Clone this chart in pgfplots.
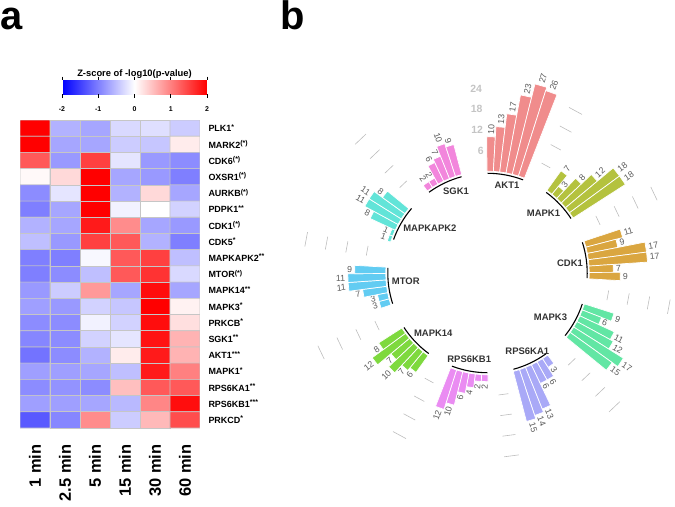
\documentclass[border=0pt]{standalone}
\usepackage{pgfplots}
\pgfplotsset{compat=1.18}
\usepgfplotslibrary{polar}
\usetikzlibrary{calc}
\usepackage{fontspec}
\setmainfont{Liberation Sans}

\definecolor{cAKT}{HTML}{F08C8C}
\definecolor{cMAPKa}{HTML}{B4C23E}
\definecolor{cCDK}{HTML}{DAA640}
\definecolor{cMAPKc}{HTML}{62E6A4}
\definecolor{cRSKA}{HTML}{A9A9F7}
\definecolor{cRSKB}{HTML}{EA8CF2}
\definecolor{cMAPKn}{HTML}{7ED93E}
\definecolor{cMTOR}{HTML}{62CCF2}
\definecolor{cMKtwo}{HTML}{62E4D8}
\definecolor{cSGK}{HTML}{F286DC}
\definecolor{valgray}{HTML}{5A5A5A}
\definecolor{labgray}{HTML}{333333}
\definecolor{gridgray}{HTML}{BDBDBD}
\definecolor{scalegray}{HTML}{C4C4C4}

\newcommand\valfont{\fontsize{8.8}{10}\selectfont}
\newcommand\gfont{\bfseries\fontsize{9.5}{11}\selectfont}
\newcommand\rowfont{\bfseries\fontsize{9}{10}\selectfont}
\newcommand\colfont{\bfseries\fontsize{16.5}{18}\selectfont}
\newcommand\st[1]{\raisebox{0.55ex}{\fontsize{7}{7}\selectfont #1}}

% heatmap: z-score of -log10(p) per kinase (rows) and time point (columns)
\pgfplotstableread{
x y z
0 0 2.0
1 0 -0.6
2 0 -0.7
3 0 -0.3
4 0 -0.25
5 0 -0.4
0 1 2.0
1 1 -0.7
2 1 -0.7
3 1 -0.4
4 1 -0.45
5 1 0.15
0 2 1.3
1 2 -0.8
2 2 1.5
3 2 -0.2
4 2 -0.8
5 2 -0.9
0 3 0.05
1 3 0.3
2 3 2.0
3 3 -0.7
4 3 -0.8
5 3 -1.0
0 4 -0.9
1 4 -0.2
2 4 2.0
3 4 -0.6
4 4 0.3
5 4 -0.7
0 5 -1.0
1 5 -0.7
2 5 2.0
3 5 -0.1
4 5 0.0
5 5 -0.35
0 6 -0.6
1 6 -0.7
2 6 1.8
3 6 0.9
4 6 -0.7
5 6 -0.8
0 7 -0.5
1 7 -0.8
2 7 1.5
3 7 1.3
4 7 -0.6
5 7 -1.0
0 8 -1.0
1 8 -1.0
2 8 -0.05
3 8 1.3
4 8 1.5
5 8 -0.5
0 9 -1.0
1 9 -0.9
2 9 -0.5
3 9 1.3
4 9 1.6
5 9 -0.3
0 10 -0.8
1 10 -0.4
2 10 0.8
3 10 -0.7
4 10 1.9
5 10 -0.7
0 11 -0.75
1 11 -0.8
2 11 -0.35
3 11 -0.45
4 11 2.0
5 11 0.1
0 12 -0.9
1 12 -0.9
2 12 -0.1
3 12 -0.35
4 12 1.9
5 12 0.25
0 13 -0.95
1 13 -0.9
2 13 -0.35
3 13 -0.2
4 13 1.85
5 13 0.6
0 14 -1.1
1 14 -0.9
2 14 -0.6
3 14 0.15
4 14 1.8
5 14 0.6
0 15 -0.75
1 15 -0.75
2 15 -0.7
3 15 -0.5
4 15 1.8
5 15 1.0
0 16 -0.9
1 16 -0.85
2 16 -0.9
3 16 0.5
4 16 1.3
5 16 1.3
0 17 -0.75
1 17 -0.75
2 17 -0.7
3 17 -0.55
4 17 0.95
5 17 1.9
0 18 -1.3
1 18 -0.95
2 18 0.9
3 18 -0.4
4 18 0.55
5 18 1.4
}\heatdata

\newcommand\rzero{29.5}
% one bar of the circular chart: colour, group centre angle, index, value
\newcommand\kbar[4]{%
  \pgfmathsetmacro\aA{mod(#2+10.8-#3*3.6+360,360)}%
  \pgfmathsetmacro\aB{mod(\aA-3.6+360,360)}%
  \pgfmathsetmacro\aM{mod(\aA-1.8+360,360)}%
  \pgfmathsetmacro\rT{\rzero+#4}%
  \pgfmathsetmacro\rL{\rT+0.5}%
  \def\anc{west}\let\vrot\aM
  \ifdim\aM pt>90pt\ifdim\aM pt<270pt\def\anc{east}\pgfmathsetmacro\vrot{\aM-180}\fi\fi
  \edef\doit{\noexpand\addplot[fill=#1,draw=white,line width=0.7bp] coordinates {(\aA,\rzero) (\aA,\rT) (\aB,\rT) (\aB,\rzero)} -- cycle;
    \noexpand\node[rotate=\vrot,anchor=\anc,font=\noexpand\valfont,text=valgray,inner sep=0.8bp] at (axis cs:\aM,\rL) {#4};}%
  \doit}
% group name (name, arc centre angle, label angle, label radius) with its black arc
\newcommand\glabel[4]{%
  \pgfmathsetmacro\gs{#2+10.4}\pgfmathsetmacro\ge{#2-10.4}%
  \edef\doit{\noexpand\draw[line width=1.1bp] let \noexpand\p1=(axis cs:0,0), \noexpand\p2=(axis cs:0,28.9), \noexpand\n1={veclen(\noexpand\x2-\noexpand\x1,\noexpand\y2-\noexpand\y1)} in (axis cs:\gs,28.9) arc[start angle=\gs, end angle=\ge, radius=\noexpand\n1];
    \noexpand\node[anchor=center,font=\noexpand\gfont,text=labgray,inner sep=0.5bp] at (axis cs:#3,#4) {#1};}%
  \doit}
% short grey scale lines in a gap
\newcommand\gapgrid[1]{%
  \pgfmathsetmacro\gs{#1+2.3}\pgfmathsetmacro\ge{#1-2.3}%
  \edef\doit{%
    \noexpand\draw[gridgray,line width=0.6bp] (axis cs:\gs,35.5) -- (axis cs:\ge,35.5);
    \noexpand\draw[gridgray,line width=0.6bp] (axis cs:\gs,41.5) -- (axis cs:\ge,41.5);
    \noexpand\draw[gridgray,line width=0.6bp] (axis cs:\gs,47.5) -- (axis cs:\ge,47.5);
    \noexpand\draw[gridgray,line width=0.6bp] (axis cs:\gs,53.5) -- (axis cs:\ge,53.5);}%
  \doit}

\begin{document}
\begin{tikzpicture}[x=1bp,y=1bp]
\useasboundingbox (0,0) rectangle (675bp,507bp);
\node[anchor=base west,inner sep=0,font=\bfseries\fontsize{40}{40}\selectfont] at (0bp,477bp) {a};
\node[anchor=base west,inner sep=0,font=\bfseries\fontsize{40}{40}\selectfont] at (280bp,477bp) {b};

\begin{axis}[at={(20bp,79bp)}, anchor=south west, scale only axis,
  width=180bp, height=308bp,
  xmin=-0.5, xmax=5.5, ymin=-0.5, ymax=18.5, y dir=reverse,
  axis line style={draw=none}, major tick length=0pt,
  xtick={0,...,5}, xticklabels={1 min,2.5 min,5 min,15 min,30 min,60 min},
  xticklabel style={rotate=90, anchor=east, font=\colfont},
  xticklabel shift=13bp,
  ytick={0,...,18}, yticklabel pos=right,
  yticklabels={PLK1\st{*}, MARK2\st{(*)}, CDK6\st{(*)}, OXSR1\st{(*)}, AURKB\st{(*)}, PDPK1\st{**}, CDK1\st{(*)}, CDK5\st{*}, MAPKAPK2\st{**}, MTOR\st{(*)}, MAPK14\st{**}, MAPK3\st{*}, PRKCB\st{*}, SGK1\st{**}, AKT1\st{***}, MAPK1\st{*}, RPS6KA1\st{**}, RPS6KB1\st{***}, PRKCD\st{*}},
  yticklabel style={anchor=west, font=\rowfont, xshift=5bp},
  colormap={bwr}{rgb255=(0,0,255) rgb255=(255,255,255) rgb255=(255,0,0)},
  point meta min=-2, point meta max=2,
  colorbar horizontal,
  colorbar style={at={(parent axis.north west)}, anchor=south west,
    xshift=42bp, yshift=34.5bp, scale only axis, width=145bp, height=14bp,
    xtick={-2,-1,0,1,2}, xticklabels={-2,-1,0,1,2}, ytick=\empty,
    xticklabel pos=lower, xticklabel shift=0pt,
    xticklabel style={rotate=0, anchor=north, yshift=-6bp, font=\bfseries\fontsize{7}{8}\selectfont},
    major tick length=3.5bp, tick align=outside,
    xtick style={draw=black, line width=0.5bp},
    axis line style={draw=none},
    title={Z-score of -log10(p-value)},
    title style={font=\bfseries\fontsize{9.4}{11}\selectfont, yshift=-7.5bp}},
  ]
  \addplot[matrix plot*, mesh/cols=6, point meta=explicit, draw=gray!45, line width=0.6bp]
    table[x=x, y=y, meta=z] {\heatdata};
\end{axis}

\begin{polaraxis}[at={(487.5bp,234bp)}, anchor=center, scale only axis,
  width=414bp, height=414bp, xmin=0, xmax=360, ymin=0, ymax=60,
  hide axis, clip=false]
  % AKT1
  \kbar{cAKT}{79.5}{0}{10}\kbar{cAKT}{79.5}{1}{13}\kbar{cAKT}{79.5}{2}{17}
  \kbar{cAKT}{79.5}{3}{23}\kbar{cAKT}{79.5}{4}{27}\kbar{cAKT}{79.5}{5}{26}
  % MAPK1
  \kbar{cMAPKa}{43.5}{0}{7}\kbar{cMAPKa}{43.5}{1}{3}\kbar{cMAPKa}{43.5}{2}{8}
  \kbar{cMAPKa}{43.5}{3}{12}\kbar{cMAPKa}{43.5}{4}{18}\kbar{cMAPKa}{43.5}{5}{18}
  % CDK1
  \kbar{cCDK}{7.5}{0}{11}\kbar{cCDK}{7.5}{1}{9}\kbar{cCDK}{7.5}{2}{17}
  \kbar{cCDK}{7.5}{3}{17}\kbar{cCDK}{7.5}{4}{7}\kbar{cCDK}{7.5}{5}{9}
  % MAPK3
  \kbar{cMAPKc}{331.5}{0}{9}\kbar{cMAPKc}{331.5}{1}{6}\kbar{cMAPKc}{331.5}{2}{11}
  \kbar{cMAPKc}{331.5}{3}{12}\kbar{cMAPKc}{331.5}{4}{17}\kbar{cMAPKc}{331.5}{5}{15}
  % RPS6KA1
  \kbar{cRSKA}{295.5}{0}{3}\kbar{cRSKA}{295.5}{1}{6}\kbar{cRSKA}{295.5}{2}{6}
  \kbar{cRSKA}{295.5}{3}{13}\kbar{cRSKA}{295.5}{4}{14}\kbar{cRSKA}{295.5}{5}{15}
  % RPS6KB1
  \kbar{cRSKB}{259.5}{0}{2}\kbar{cRSKB}{259.5}{1}{2}\kbar{cRSKB}{259.5}{2}{4}
  \kbar{cRSKB}{259.5}{3}{6}\kbar{cRSKB}{259.5}{4}{10}\kbar{cRSKB}{259.5}{5}{12}
  % MAPK14
  \kbar{cMAPKn}{223.5}{0}{6}\kbar{cMAPKn}{223.5}{1}{7}\kbar{cMAPKn}{223.5}{2}{10}
  \kbar{cMAPKn}{223.5}{3}{7}\kbar{cMAPKn}{223.5}{4}{12}\kbar{cMAPKn}{223.5}{5}{8}
  % MTOR
  \kbar{cMTOR}{187.5}{0}{3}\kbar{cMTOR}{187.5}{1}{3}\kbar{cMTOR}{187.5}{2}{7}
  \kbar{cMTOR}{187.5}{3}{11}\kbar{cMTOR}{187.5}{4}{11}\kbar{cMTOR}{187.5}{5}{9}
  % MAPKAPK2
  \kbar{cMKtwo}{151.5}{0}{1}\kbar{cMKtwo}{151.5}{1}{1}\kbar{cMKtwo}{151.5}{2}{8}
  \kbar{cMKtwo}{151.5}{3}{11}\kbar{cMKtwo}{151.5}{4}{11}\kbar{cMKtwo}{151.5}{5}{8}
  % SGK1
  \kbar{cSGK}{115.5}{0}{2}\kbar{cSGK}{115.5}{1}{2}\kbar{cSGK}{115.5}{2}{6}
  \kbar{cSGK}{115.5}{3}{7}\kbar{cSGK}{115.5}{4}{10}\kbar{cSGK}{115.5}{5}{9}

  \glabel{AKT1}{79.5}{77.5}{26.1}
  \glabel{MAPK1}{43.5}{47}{23.8}
  \glabel{CDK1}{7.5}{7}{24.1}
  \glabel{MAPK3}{331.5}{325}{22.3}
  \glabel{RPS6KA1}{295.5}{297}{25.4}
  \glabel{RPS6KB1}{259.5}{258}{25.5}
  \glabel{MAPK14}{223.5}{228}{23.5}
  \glabel{MTOR}{187.5}{186}{23.8}
  \glabel{MAPKAPK2}{150}{142}{21.2}
  \glabel{SGK1}{115.5}{111}{25.5}

  \gapgrid{25.5}\gapgrid{61.5}\gapgrid{133.5}\gapgrid{169.5}\gapgrid{205.5}
  \gapgrid{241.5}\gapgrid{277.5}\gapgrid{313.5}\gapgrid{349.5}

  \node[anchor=east,text=scalegray,font=\bfseries\fontsize{10.5}{12}\selectfont,inner sep=0.5bp] at (axis cs:91.5,35.5) {6};
  \node[anchor=east,text=scalegray,font=\bfseries\fontsize{10.5}{12}\selectfont,inner sep=0.5bp] at (axis cs:91.5,41.5) {12};
  \node[anchor=east,text=scalegray,font=\bfseries\fontsize{10.5}{12}\selectfont,inner sep=0.5bp] at (axis cs:91.5,47.5) {18};
  \node[anchor=east,text=scalegray,font=\bfseries\fontsize{10.5}{12}\selectfont,inner sep=0.5bp] at (axis cs:91.5,53.5) {24};
\end{polaraxis}
\end{tikzpicture}
\end{document}
